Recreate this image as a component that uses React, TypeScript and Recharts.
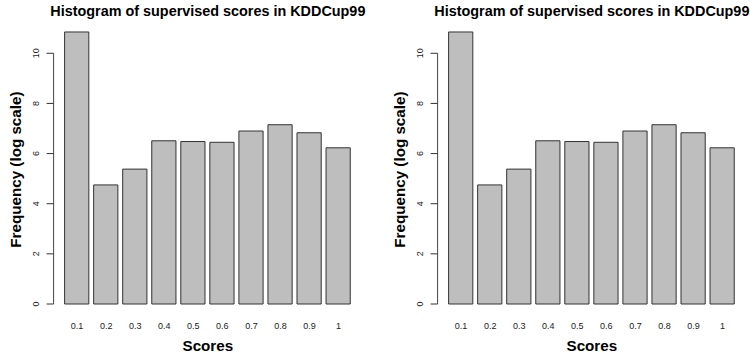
import { BarChart, Bar, XAxis, YAxis, ReferenceLine, Label } from "recharts";

const scores = ["0.1", "0.2", "0.3", "0.4", "0.5", "0.6", "0.7", "0.8", "0.9", "1"];
const logFrequency = [10.85, 4.75, 5.38, 6.51, 6.48, 6.45, 6.9, 7.15, 6.83, 6.23];
const yTicks = [0, 2, 4, 6, 8, 10];

const TITLE = "Histogram of supervised scores in KDDCup99";
const FONT = "'Liberation Sans', Arial, sans-serif";

// same layout as R's barplot(): bars of width 1 separated by 0.2, range padded by 4%
const BAR_W = 1;
const SPACE = 0.2;
const mids = scores.map((_, i) => SPACE + i * (BAR_W + SPACE) + BAR_W / 2);
const xLo = SPACE;
const xHi = scores.length * (BAR_W + SPACE);
const xPad = (xHi - xLo) * 0.04;
const xDomain: [number, number] = [xLo - xPad, xHi + xPad];

const data = scores.map((score, i) => ({ score, mid: mids[i], value: logFrequency[i] }));

const HEIGHT = 355;
const PLOT_LEFT = 53.6;
const PLOT_RIGHT = 362.1;
const barPx = ((PLOT_RIGHT - PLOT_LEFT) / (xDomain[1] - xDomain[0])) * BAR_W;

function XTick(props: any) {
  const { x, y, payload } = props;
  const idx = mids.findIndex((m) => Math.abs(m - payload.value) < 1e-6);
  return (
    <text
      x={x}
      y={y + 22}
      textAnchor="middle"
      dominantBaseline="central"
      fontSize={9}
      fontFamily={FONT}
      fill="#222"
    >
      {idx >= 0 ? scores[idx] : ""}
    </text>
  );
}

function YTick(props: any) {
  const { x, y, payload } = props;
  const tx = x - 5.6;
  return (
    <text
      x={tx}
      y={y}
      transform={`rotate(-90, ${tx}, ${y})`}
      textAnchor="middle"
      fontSize={9}
      fontFamily={FONT}
      fill="#222"
    >
      {payload.value}
    </text>
  );
}

function Panel({ left, width }: { left: number; width: number }) {
  return (
    <div style={{ position: "absolute", left, top: 0, width, height: HEIGHT }}>
      <div
        style={{
          position: "absolute",
          left: (PLOT_LEFT + PLOT_RIGHT) / 2,
          top: 4,
          transform: "translateX(-50%)",
          fontFamily: FONT,
          fontWeight: "bold",
          fontSize: 14.4,
          lineHeight: 1,
          whiteSpace: "nowrap",
          color: "#000",
        }}
      >
        {TITLE}
      </div>
      <BarChart
        width={width}
        height={HEIGHT}
        data={data}
        margin={{ top: 23.2, right: width - PLOT_RIGHT, bottom: 21, left: 0 }}
      >
        <XAxis
          type="number"
          dataKey="mid"
          scale="linear"
          domain={xDomain}
          ticks={mids}
          interval={0}
          axisLine={false}
          tickLine={false}
          tickSize={0}
          tickMargin={0}
          tick={XTick}
          height={30}
        >
          <Label
            content={(p: any) => {
              const vb = p.viewBox;
              return (
                <text
                  x={vb.x + vb.width / 2}
                  y={vb.y + 47.4}
                  textAnchor="middle"
                  fontSize={15.2}
                  fontWeight="bold"
                  fontFamily={FONT}
                  fill="#000"
                >
                  Scores
                </text>
              );
            }}
          />
        </XAxis>
        <YAxis
          type="number"
          domain={[0, 11.2]}
          ticks={yTicks}
          interval={0}
          width={PLOT_LEFT}
          axisLine={false}
          tickSize={7}
          tickLine={{ stroke: "#333" }}
          tick={YTick}
        >
          <Label
            content={(p: any) => {
              const vb = p.viewBox;
              const cx = 21;
              const cy = vb.y + vb.height / 2 + 6;
              return (
                <text
                  x={cx}
                  y={cy}
                  transform={`rotate(-90, ${cx}, ${cy})`}
                  textAnchor="middle"
                  fontSize={15.2}
                  fontWeight="bold"
                  fontFamily={FONT}
                  fill="#000"
                >
                  Frequency (log scale)
                </text>
              );
            }}
          />
        </YAxis>
        <ReferenceLine
          segment={[
            { x: xDomain[0], y: 0 },
            { x: xDomain[0], y: 10 },
          ]}
          stroke="#444"
          ifOverflow="visible"
        />
        <Bar
          dataKey="value"
          barSize={barPx}
          fill="#bebebe"
          stroke="#333"
          strokeWidth={1}
          isAnimationActive={false}
        />
      </BarChart>
    </div>
  );
}

export default function App() {
  return (
    <div
      style={{
        position: "absolute",
        left: 0,
        top: 0,
        width: 750,
        height: HEIGHT,
        overflow: "hidden",
        background: "#fff",
      }}
    >
      <Panel left={0} width={375} />
      <Panel left={384} width={366} />
    </div>
  );
}
